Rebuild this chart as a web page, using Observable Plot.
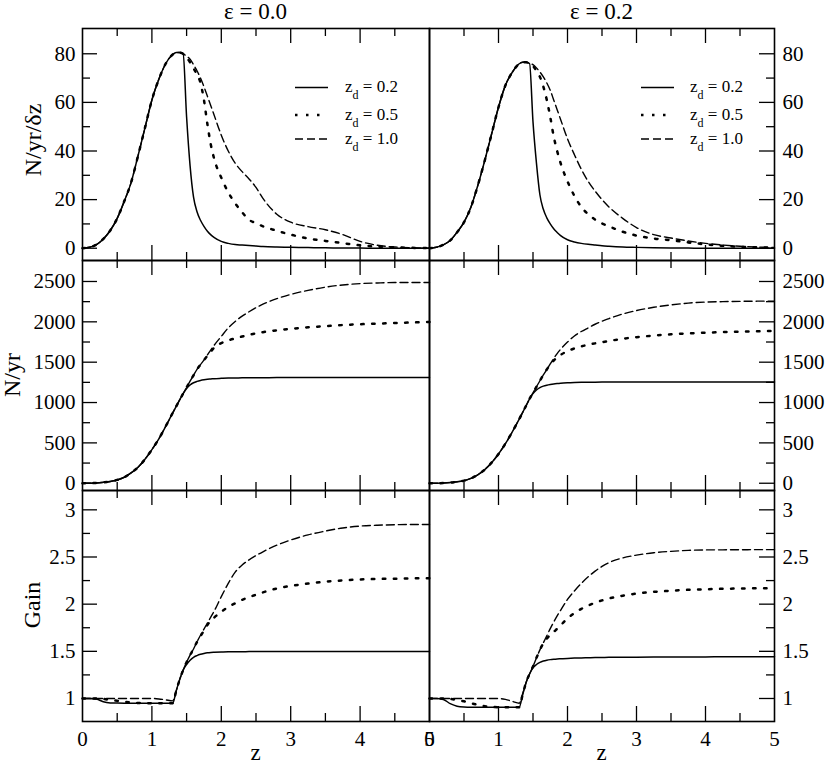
<!DOCTYPE html>
<html>
<head>
<meta charset="utf-8">
<script src="https://cdn.jsdelivr.net/npm/d3@7"></script>
<script src="https://cdn.jsdelivr.net/npm/@observablehq/plot@0.6"></script>
<style>
html, body { margin: 0; padding: 0; background: #fff; }
#wrap { position: relative; width: 830px; height: 766px; overflow: hidden; background: #fff; }
#wrap svg { position: absolute; left: 0; top: 0; }
</style>
</head>
<body>
<div id="wrap"></div>
<script>
// ---------------- data ----------------
const zGrid = [0, 0.1, 0.2, 0.3, 0.4, 0.5, 0.6, 0.7, 0.8, 0.9, 1.0, 1.1, 1.2, 1.3, 1.35, 1.4, 1.45,
  1.5, 1.55, 1.6, 1.65, 1.7, 1.75, 1.8, 1.85, 1.9, 2.0, 2.1, 2.2, 2.3, 2.4, 2.5, 2.6, 2.8, 3.0,
  3.25, 3.5, 3.75, 4.0, 4.25, 4.5, 4.75, 5.0];

const columnTitles = ["ε = 0.0", "ε = 0.2"];
const rowTitles = ["N/yr/δz", "N/yr", "Gain"];
const seriesNames = ["0.2", "0.5", "1.0"];

// N/yr/δz, ε = 0.0
const rateE0Zd02 = [0, 0.4, 1.5, 3.8, 7.3, 12.3, 19.2, 27, 38, 49.5, 61, 69.5, 76, 79.7, 80.5, 80.5, 80,
  54, 34, 21, 15, 11.5, 9, 7, 5.5, 4.4, 2.8, 2.0, 1.5, 1.3, 1.1, 0.9, 0.7, 0.5, 0.4, 0.25, 0.15, 0.1, 0.05, 0, 0, 0, 0];
const rateE0Zd05 = [0, 0.4, 1.5, 3.8, 7.3, 12.3, 19.2, 27, 38, 49.5, 61, 69.5, 76, 79.7, 80.5, 80.5, 80,
  78.5, 76.5, 74, 71.5, 68, 61, 51, 42.5, 36.5, 29, 23, 18.5, 14.8, 11.7, 10.3, 9.0, 7.2, 5.6, 4.0, 3.0, 2.1, 1.2, 0.7, 0.35, 0.15, 0.05];
const rateE0Zd10 = [0, 0.4, 1.5, 3.8, 7.3, 12.3, 19.2, 27, 38, 49.5, 61, 69.5, 76, 79.7, 80.5, 80.5, 80,
  79, 77.8, 75.5, 73, 70, 66.5, 62.5, 58.5, 54.5, 46.5, 40, 35, 31.5, 28.5, 25, 20.5, 14, 10.7, 8.9, 7.6, 5.6, 2.8, 1.2, 0.5, 0.2, 0.05];

// N/yr/δz, ε = 0.2
const rateE2Zd02 = [0, 0.4, 1.4, 3.2, 6.6, 10.7, 16.9, 25.8, 36, 47, 58, 67, 72.4, 75.9, 76.5, 76.5, 76,
  52, 35, 22, 16, 12.5, 10, 8, 6.5, 5.2, 3.5, 2.6, 2.0, 1.6, 1.3, 1.0, 0.8, 0.5, 0.35, 0.2, 0.1, 0.05, 0, 0, 0, 0, 0];
const rateE2Zd05 = [0, 0.4, 1.4, 3.2, 6.6, 10.7, 16.9, 25.8, 36, 47, 58, 67, 72.4, 75.9, 76.5, 76.5, 76,
  75, 73, 70.5, 66.5, 61, 54, 46, 40, 35, 27.5, 21.5, 17, 14, 11.8, 10.2, 9.0, 6.8, 5.2, 4.0, 3.3, 2.4, 1.6, 1.0, 0.6, 0.35, 0.2];
const rateE2Zd10 = [0, 0.4, 1.4, 3.2, 6.6, 10.7, 16.9, 25.8, 36, 47, 58, 67, 72.4, 75.9, 76.5, 76.5, 76,
  75.5, 74.2, 72.5, 70.5, 68, 65, 61, 57, 53, 45, 38.5, 32.5, 27.5, 23.5, 20, 17, 12.3, 8.5, 5.6, 4.2, 3.0, 2.0, 1.3, 0.8, 0.5, 0.3];

// N/yr, ε = 0.0
const countE0Zd02 = [0, 0.5, 3, 11, 22, 41, 74, 128, 198, 297, 417, 550, 707, 872, 952, 1032, 1110,
  1175, 1217, 1245, 1262, 1274, 1282, 1288, 1292, 1296, 1300, 1303, 1305, 1306, 1307, 1308, 1308, 1309, 1310, 1310, 1310, 1310, 1310, 1310, 1310, 1310, 1310];
const countE0Zd05 = [0, 0.5, 3, 11, 22, 41, 74, 128, 198, 297, 417, 550, 707, 872, 952, 1032, 1110,
  1188, 1265, 1338, 1410, 1470, 1525, 1580, 1632, 1683, 1737, 1770, 1795, 1818, 1840, 1857, 1872, 1895, 1913, 1932, 1946, 1960, 1970, 1978, 1985, 1992, 1998];
const countE0Zd10 = [0, 0.5, 3, 11, 22, 41, 74, 128, 198, 297, 417, 550, 707, 872, 952, 1032, 1110,
  1188, 1265, 1338, 1410, 1470, 1525, 1590, 1652, 1713, 1820, 1925, 2005, 2070, 2125, 2175, 2218, 2287, 2340, 2390, 2430, 2457, 2474, 2482, 2487, 2488, 2488];

// N/yr, ε = 0.2
const countE2Zd02 = [0, 0.5, 2.5, 8, 18, 32, 60, 105, 168, 255, 362, 490, 637, 795, 877, 960, 1045,
  1110, 1155, 1185, 1203, 1215, 1224, 1231, 1236, 1240, 1245, 1248, 1250, 1251, 1252, 1253, 1254, 1255, 1256, 1256, 1256, 1256, 1256, 1256, 1256, 1256, 1256];
const countE2Zd05 = [0, 0.5, 2.5, 8, 18, 32, 60, 105, 168, 255, 362, 490, 637, 795, 877, 960, 1045,
  1120, 1195, 1270, 1342, 1410, 1470, 1520, 1560, 1590, 1638, 1670, 1696, 1716, 1733, 1748, 1762, 1790, 1810, 1830, 1845, 1857, 1866, 1873, 1879, 1884, 1888];
const countE2Zd10 = [0, 0.5, 2.5, 8, 18, 32, 60, 105, 168, 255, 362, 490, 637, 795, 877, 960, 1045,
  1120, 1195, 1270, 1342, 1410, 1478, 1545, 1607, 1660, 1750, 1825, 1880, 1925, 1970, 2008, 2040, 2097, 2140, 2180, 2210, 2232, 2245, 2250, 2254, 2256, 2257];

// Gain, ε = 0.0
const gainE0Zd02 = [1.0, 1.0, 0.995, 0.965, 0.953, 0.951, 0.95, 0.95, 0.95, 0.95, 0.95, 0.95, 0.95, 0.95, 1.08, 1.2, 1.3,
  1.36, 1.405, 1.437, 1.455, 1.468, 1.477, 1.484, 1.488, 1.49, 1.493, 1.495, 1.496, 1.496, 1.497, 1.497, 1.497, 1.497, 1.497, 1.497, 1.497, 1.497, 1.497, 1.497, 1.497, 1.497, 1.497];
const gainE0Zd05 = [1.0, 1.0, 1.0, 0.995, 0.985, 0.975, 0.965, 0.958, 0.953, 0.951, 0.95, 0.95, 0.95, 0.95, 1.08, 1.2, 1.3,
  1.385, 1.46, 1.525, 1.6, 1.66, 1.72, 1.78, 1.825, 1.86, 1.92, 1.97, 2.01, 2.046, 2.075, 2.1, 2.125, 2.166, 2.193, 2.218, 2.238, 2.252, 2.262, 2.267, 2.27, 2.273, 2.276];
const gainE0Zd10 = [1.0, 1.0, 1.0, 1.0, 1.0, 1.0, 1.0, 1.0, 1.0, 1.0, 1.0, 0.995, 0.985, 0.975, 1.08, 1.2, 1.3,
  1.385, 1.46, 1.525, 1.6, 1.67, 1.735, 1.8, 1.865, 1.93, 2.08, 2.22, 2.34, 2.415, 2.47, 2.515, 2.555, 2.625, 2.68, 2.735, 2.775, 2.808, 2.828, 2.837, 2.842, 2.845, 2.845];

// Gain, ε = 0.2
const gainE2Zd02 = [1.0, 1.0, 0.99, 0.945, 0.918, 0.91, 0.908, 0.908, 0.908, 0.908, 0.908, 0.908, 0.908, 0.908, 1.04, 1.17, 1.26,
  1.325, 1.36, 1.383, 1.397, 1.406, 1.412, 1.416, 1.419, 1.421, 1.425, 1.428, 1.43, 1.432, 1.434, 1.435, 1.436, 1.437, 1.438, 1.439, 1.44, 1.441, 1.441, 1.442, 1.442, 1.442, 1.442];
const gainE2Zd05 = [1.0, 1.0, 1.0, 0.995, 0.985, 0.97, 0.95, 0.933, 0.918, 0.91, 0.908, 0.908, 0.908, 0.908, 1.04, 1.17, 1.26,
  1.34, 1.43, 1.515, 1.585, 1.635, 1.675, 1.705, 1.74, 1.775, 1.85, 1.905, 1.95, 1.985, 2.015, 2.04, 2.06, 2.09, 2.112, 2.13, 2.143, 2.152, 2.158, 2.163, 2.166, 2.168, 2.17];
const gainE2Zd10 = [1.0, 1.0, 1.0, 1.0, 1.0, 1.0, 1.0, 1.0, 1.0, 1.0, 1.0, 0.99, 0.97, 0.95, 1.05, 1.17, 1.26,
  1.34, 1.43, 1.515, 1.59, 1.665, 1.74, 1.81, 1.875, 1.935, 2.05, 2.14, 2.22, 2.29, 2.35, 2.4, 2.44, 2.49, 2.52, 2.545, 2.56, 2.57, 2.575, 2.576, 2.577, 2.578, 2.578];

// tick values
const xMajor = [1, 2, 3, 4];
const xMinor = [0.5, 1.5, 2.5, 3.5, 4.5];
const xLabels = [0, 1, 2, 3, 4, 5];
const rateMajor = [0, 20, 40, 60, 80];
const rateMinor = [10, 30, 50, 70];
const countMajor = [0, 500, 1000, 1500, 2000, 2500];
const countMinor = [250, 750, 1250, 1750, 2250];
const gainMajor = [1, 1.5, 2, 2.5, 3];
const gainMinor = [1.25, 1.75, 2.25, 2.75];

// ---------------- layout ----------------
const W = 830, H = 766;
const FONT = "'Liberation Serif', 'Times New Roman', Times, serif";
const cols = [
  {ml: 82, mr: 401, anchor: "left"},
  {ml: 429, mr: 56, anchor: "right"}
];
const rows = [
  {mt: 28, mb: 506, domain: [-5.05, 90.4], major: rateMajor, minor: rateMinor},
  {mt: 260, mb: 276, domain: [-90, 2760], major: countMajor, minor: countMinor},
  {mt: 490, mb: 45, domain: [0.756, 3.205], major: gainMajor, minor: gainMinor}
];
const seriesByPanel = [
  [[rateE0Zd02, rateE0Zd05, rateE0Zd10], [rateE2Zd02, rateE2Zd05, rateE2Zd10]],
  [[countE0Zd02, countE0Zd05, countE0Zd10], [countE2Zd02, countE2Zd05, countE2Zd10]],
  [[gainE0Zd02, gainE0Zd05, gainE0Zd10], [gainE2Zd02, gainE2Zd05, gainE2Zd10]]
];
const styles = [
  {strokeWidth: 1.5},
  {strokeWidth: 2.5, strokeDasharray: "2.5,8.5"},
  {strokeWidth: 1.4, strokeDasharray: "8,4"}
];

const wrap = document.getElementById("wrap");

rows.forEach((row, ri) => {
  cols.forEach((col, ci) => {
    const fw = W - col.ml - col.mr;
    const fh = H - row.mt - row.mb;
    const lineMarks = seriesByPanel[ri][ci].map((vals, si) => {
      const data = zGrid.map((z, i) => ({z, v: vals[i]}));
      return Plot.line(data, {x: "z", y: "v", stroke: "black", curve: "monotone-x", ...styles[si]});
    });
    const yTickMarks = col.anchor === "left"
      ? [Plot.tickY(row.major, {y: d => d, insetRight: fw - 15, strokeWidth: 1.3}),
         Plot.tickY(row.minor, {y: d => d, insetRight: fw - 8, strokeWidth: 1.3})]
      : [Plot.tickY(row.major, {y: d => d, insetLeft: fw - 15, strokeWidth: 1.3}),
         Plot.tickY(row.minor, {y: d => d, insetLeft: fw - 8, strokeWidth: 1.3})];
    const marks = [
      ...lineMarks,
      Plot.tickX(xMajor, {x: d => d, insetTop: fh - 15, strokeWidth: 1.3}),
      Plot.tickX(xMajor, {x: d => d, insetBottom: fh - 15, strokeWidth: 1.3}),
      Plot.tickX(xMinor, {x: d => d, insetTop: fh - 8, strokeWidth: 1.3}),
      Plot.tickX(xMinor, {x: d => d, insetBottom: fh - 8, strokeWidth: 1.3}),
      ...yTickMarks,
      Plot.frame({strokeWidth: 1.6}),
      Plot.axisY({ticks: row.major, anchor: col.anchor, tickSize: 0, tickPadding: col.anchor === "left" ? 7 : 8,
        tickFormat: d => String(d), fontSize: 21, fontFamily: FONT, label: null})
    ];
    if (ri === 2) {
      marks.push(Plot.axisX({ticks: xLabels, anchor: "bottom", tickSize: 0, tickPadding: 10,
        tickFormat: d => String(d), fontSize: 21, fontFamily: FONT, label: null}));
    }
    const svg = Plot.plot({
      width: W, height: H,
      marginLeft: col.ml, marginRight: col.mr, marginTop: row.mt, marginBottom: row.mb,
      x: {domain: [0, 5], axis: null},
      y: {domain: row.domain, axis: null},
      style: {"background": "transparent", "font-family": FONT, "font-size": "21px", "color": "black", "overflow": "visible"},
      marks
    });
    svg.style.fontFamily = FONT;
    svg.style.fontSize = "21px";
    svg.style.background = "transparent";
    wrap.appendChild(svg);
  });
});

// ---------------- overlay text: titles, axis titles, legends ----------------
const ov = d3.select(wrap).append("svg")
  .attr("width", W).attr("height", H)
  .style("font-family", FONT).style("fill", "black");

const colCenters = [255.5, 601.5];
columnTitles.forEach((t, i) => {
  ov.append("text").attr("x", colCenters[i]).attr("y", 18.5)
    .attr("text-anchor", "middle").attr("font-size", 23).text(t);
  ov.append("text").attr("x", colCenters[i]).attr("y", 760)
    .attr("text-anchor", "middle").attr("font-size", 23).text("z");
});

const rowTitlePos = [{x: 41, y: 140}, {x: 20, y: 375}, {x: 40, y: 605}];
rowTitles.forEach((t, i) => {
  ov.append("text")
    .attr("transform", `translate(${rowTitlePos[i].x},${rowTitlePos[i].y}) rotate(-90)`)
    .attr("text-anchor", "middle").attr("font-size", 24).text(t);
});

const legendPos = [{x1: 295, x2: 328, tx: 345}, {x1: 641, x2: 674, tx: 690}];
const legendY = [87.5, 115, 139];
legendPos.forEach(p => {
  seriesNames.forEach((name, si) => {
    const st = styles[si];
    ov.append("line")
      .attr("x1", p.x1).attr("x2", p.x2).attr("y1", legendY[si]).attr("y2", legendY[si])
      .attr("stroke", "black").attr("stroke-width", st.strokeWidth)
      .attr("stroke-dasharray", st.strokeDasharray || null);
    const t = ov.append("text").attr("x", p.tx).attr("y", legendY[si] + 4.5).attr("font-size", 17);
    t.append("tspan").text("z");
    t.append("tspan").attr("font-size", 12).attr("dy", 7).text("d");
    t.append("tspan").attr("dy", -7).text(" = " + name);
  });
});
</script>
</body>
</html>
